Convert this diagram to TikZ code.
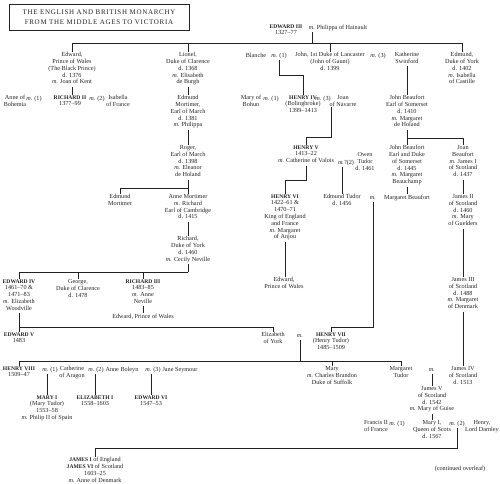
\documentclass[tikz,border=0pt]{standalone}
\usepackage{fontspec}
\usepackage{xcolor}
\setmainfont{Liberation Serif}
\usetikzlibrary{positioning,calc}
\definecolor{Ink}{HTML}{222222}
\newcommand{\wed}{\textit{m.}}
\newcommand{\monarch}[1]{{\fontsize{5.6}{6.8}\selectfont\bfseries #1}}
\tikzset{
  person/.style={anchor=north,align=center,inner sep=0pt,outer sep=0.8pt,text=Ink,
    font=\fontsize{6.2}{6.8}\selectfont,execute at begin node=\strut,execute at end node=\strut,yshift=3.4pt},
  wedlock/.style={person},
  link/.style={draw=Ink,line width=0.65pt}
}

\begin{document}
\begin{tikzpicture}[x=1pt,y=-1pt]
  \useasboundingbox (0,0) rectangle (500,483);
  \node[draw=Ink,line width=0.65pt,minimum width=180pt,minimum height=26pt,align=center,inner sep=0pt,text=Ink,
    font=\fontsize{7}{10.5}\selectfont\addfontfeature{LetterSpace=10}] (title) at (99,17)
    {THE ENGLISH AND BRITISH MONARCHY\\FROM THE MIDDLE AGES TO VICTORIA};

  \coordinate (barA) at (0,43);
  \coordinate (barB) at (0,75);
  \coordinate (barC) at (0,137);
  \coordinate (barD) at (0,138);
  \coordinate (barE) at (0,188);
  \coordinate (barF) at (0,180);
  \coordinate (barG) at (0,272);
  \coordinate (barH) at (0,327);
  \coordinate (barI) at (0,361);
  \coordinate (barJ) at (0,448);

  \node[person] (edward3) at (286,27) {\monarch{EDWARD III}\\1327--77};
  \node[wedlock] (mEdward3) at (312,27) {\wed};
  \node[person,anchor=north west] (philippa) at (316,27) {Philippa of Hainault};

  \node[person] (blackPrince) at (72,55) {Edward,\\Prince of Wales\\(The Black Prince)\\d. 1376\\\wed{} Joan of Kent};
  \node[person] (lionel) at (188,55) {Lionel,\\Duke of Clarence\\d. 1368\\\wed{} Elisabeth\\de Burgh};
  \node[person] (blanche) at (256,55) {Blanche};
  \node[wedlock] (mGaunt1) at (279,55) {\wed{} (1)};
  \node[person] (gaunt) at (330,55) {John, 1st Duke of Lancaster\\(John of Gaunt)\\d. 1399};
  \node[wedlock] (mGaunt3) at (378,55) {\wed{} (3)};
  \node[person] (katherine) at (407,55) {Katherine\\Swinford};
  \node[person] (edmundYork) at (462,55) {Edmund,\\Duke of York\\d. 1402\\\wed{} Isabella\\of Castille};

  \draw[link] (mEdward3.south) -- (mEdward3.south |- barA);
  \draw[link] (blackPrince.north |- barA) -- (edmundYork.north |- barA);
  \draw[link] (blackPrince.north |- barA) -- (blackPrince.north);
  \draw[link] (lionel.north |- barA) -- (lionel.north);
  \draw[link] (gaunt.north |- barA) -- (gaunt.north);
  \draw[link] (edmundYork.north |- barA) -- (edmundYork.north);

  \node[person] (anneBohemia) at (15,98) {Anne of\\Bohemia};
  \node[wedlock] (mRichard1) at (34,98) {\wed{} (1)};
  \node[person] (richard2) at (70,98) {\monarch{RICHARD II}\\1377--99};
  \node[wedlock] (mRichard2) at (97,98) {\wed{} (2)};
  \node[person] (isabella) at (118,98) {Isabella\\of France};
  \node[person] (edmundMortimer) at (188,98) {Edmund\\Mortimer,\\Earl of March\\d. 1381\\\wed{} Philippa};
  \node[person] (maryBohun) at (251,98) {Mary of\\Bohun};
  \node[wedlock] (mHenry1) at (271,98) {\wed{} (1)};
  \node[person] (henry4) at (303,98) {\monarch{HENRY IV}\\(Bolingbroke)\\1399--1413};
  \node[wedlock] (mHenry3) at (323,98) {\wed{} (3)};
  \node[person] (joanNavarre) at (343,98) {Joan\\of Navarre};
  \node[person] (johnBeaufort) at (407,98) {John Beaufort\\Earl of Somerset\\d. 1410\\\wed{} Margaret\\de Holand};

  \draw[link] (blackPrince.south) -- (blackPrince.south |- richard2.north);
  \draw[link] (lionel.south) -- (edmundMortimer.north);
  \draw[link] (mGaunt1.south) |- (henry4.north |- barB) -- (henry4.north);
  \draw[link] (katherine.south) -- (katherine.south |- johnBeaufort.north);

  \node[person] (roger) at (188,148) {Roger,\\Earl of March\\d. 1398\\\wed{} Eleanor\\de Holand};
  \node[person] (henry5) at (306,148) {\monarch{HENRY V}\\1413--22\\\wed{} Catherine of Valois};
  \node[wedlock] (mOwen) at (346,162) {\wed?(2)};
  \node[person] (owen) at (365,155) {Owen\\Tudor\\d. 1461};
  \node[person] (johnBeaufort2) at (407,148) {John Beaufort\\Earl and Duke\\of Somerset\\d. 1445\\\wed{} Margaret\\Beauchamp};
  \node[person] (joanBeaufort) at (463,148) {Joan\\Beaufort\\\wed{} James I\\of Scotland\\d. 1437};

  \coordinate (henry4drop) at ([yshift=-4pt]mHenry3.south east);
  \draw[link] (henry4drop) |- (henry5.north |- barC) -- (henry5.north);
  \draw[link] (edmundMortimer.south) -- (roger.north);
  \draw[link] (johnBeaufort.south) -- (johnBeaufort2.north);
  \draw[link] (johnBeaufort.south |- barD) -- (joanBeaufort.north |- barD) -- (joanBeaufort.north);

  \node[person] (edmundMortimer2) at (120,197) {Edmund\\Mortimer};
  \node[person] (anneMortimer) at (188,197) {Anne Mortimer\\\wed{} Richard\\Earl of Cambridge\\d. 1415};
  \node[person] (henry6) at (285,197) {\monarch{HENRY VI}\\1422--61 \&\\1470--71\\King of England\\and France\\\wed{} Margaret\\of Anjou};
  \node[person] (edmundTudor) at (342,197) {Edmund Tudor\\d. 1456};
  \node[wedlock] (mEdmund) at (373,197) {\wed};
  \node[person] (margaretBeaufort) at (407,197) {Margaret Beaufort};
  \node[person] (james2) at (463,197) {James II\\of Scotland\\d. 1460\\\wed{} Mary\\of Guelders};

  \draw[link] (roger.south) -- (anneMortimer.north);
  \draw[link] (edmundMortimer2.north |- barE) -- (roger.south |- barE);
  \draw[link] (edmundMortimer2.north |- barE) -- (edmundMortimer2.north);
  \draw[link] (henry5.south) |- (henry6.north |- barF) -- (henry6.north);
  \draw[link] (edmundTudor.north |- mOwen.south) -- (edmundTudor.north);
  \draw[link] (johnBeaufort2.south) -- (margaretBeaufort.north);
  \draw[link] (joanBeaufort.south) -- (james2.north);

  \node[person] (richardYork) at (188,239) {Richard,\\Duke of York\\d. 1460\\\wed{} Cecily Neville};
  \node[person] (edwardLancaster) at (284,280) {Edward,\\Prince of Wales};
  \node[person] (james3) at (463,280) {James III\\of Scotland\\d. 1488\\\wed{} Margaret\\of Denmark};

  \draw[link] (anneMortimer.south) -- (richardYork.north);
  \draw[link] (henry6.south) -- (henry6.south |- edwardLancaster.north);
  \draw[link] (james2.south) -- (james3.north);

  \node[person] (edward4) at (19,282) {\monarch{EDWARD IV}\\1461--70 \&\\1471--83\\\wed{} Elizabeth\\Woodville};
  \node[person] (george) at (78,282) {George,\\Duke of Clarence\\d. 1478};
  \node[person] (richard3) at (143,282) {\monarch{RICHARD III}\\1483--85\\\wed{} Anne\\Neville};
  \node[person] (edwardYork) at (143,316) {Edward, Prince of Wales};

  \draw[link] (richardYork.south) -- (richardYork.south |- barG);
  \draw[link] (edward4.north |- barG) -- (richardYork.south |- barG);
  \draw[link] (edward4.north |- barG) -- (edward4.north);
  \draw[link] (george.north |- barG) -- (george.north);
  \draw[link] (richard3.north |- barG) -- (richard3.north);
  \draw[link] (richard3.south) -- (edwardYork.north);

  \node[person] (edward5) at (19,335) {\monarch{EDWARD V}\\1483};
  \node[person] (elizabethYork) at (273,335) {Elizabeth\\of York};
  \node[wedlock] (mHenry7) at (300,335) {\wed};
  \node[person] (henry7) at (331,335) {\monarch{HENRY VII}\\(Henry Tudor)\\1485--1509};

  \draw[link] (edward4.south) -- (edward5.north);
  \draw[link] (edward4.south |- barH) -- (elizabethYork.north |- barH) -- (elizabethYork.north);
  \draw[link] (mEdmund.south) |- (henry7.north |- barH) -- (henry7.north);

  \node[person] (henry8) at (19,369) {\monarch{HENRY VIII}\\1509--47};
  \node[wedlock] (mHenry8a) at (50,369) {\wed{} (1)};
  \node[person] (catherineAragon) at (72,369) {Catherine\\of Aragon};
  \node[wedlock] (mHenry8b) at (96,369) {\wed{} (2)};
  \node[person] (anneBoleyn) at (122,369) {Anne Boleyn};
  \node[wedlock] (mHenry8c) at (153,369) {\wed{} (3)};
  \node[person] (janeSeymour) at (180,369) {Jane Seymour};
  \node[person] (maryTudor) at (332,369) {Mary\\\wed{} Charles Brandon\\Duke of Suffolk};
  \node[person] (margaretTudor) at (401,369) {Margaret\\Tudor};
  \node[wedlock] (mJames4) at (432,369) {\wed};
  \node[person] (james4) at (463,369) {James IV\\of Scotland\\d. 1513};

  \draw[link] (mHenry7.south) -- (mHenry7.south |- barI);
  \draw[link] (henry8.north |- barI) -- (margaretTudor.north |- barI);
  \draw[link] (henry8.north |- barI) -- (henry8.north);
  \draw[link] (maryTudor.north |- barI) -- (maryTudor.north);
  \draw[link] (margaretTudor.north |- barI) -- (margaretTudor.north);
  \draw[link] (james3.south) -- (james4.north);

  \node[person] (mary1) at (47,398) {\monarch{MARY I}\\(Mary Tudor)\\1553--58\\\wed{} Philip II of Spain};
  \node[person] (elizabeth1) at (95,398) {\monarch{ELIZABETH I}\\1558--1603};
  \node[person] (edward6) at (151,398) {\monarch{EDWARD VI}\\1547--53};
  \node[person] (james5) at (432,389) {James V\\of Scotland\\d. 1542\\\wed{} Mary of Guise};

  \draw[link] (mary1.north |- mHenry8a.south) -- (mary1.north);
  \draw[link] (elizabeth1.north |- mHenry8b.south) -- (elizabeth1.north);
  \draw[link] (edward6.north |- mHenry8c.south) -- (edward6.north);
  \draw[link] (mJames4.south) -- (james5.north);

  \node[person] (francis2) at (376,423) {Francis II\\of France};
  \node[wedlock] (mMary1) at (397,423) {\wed{} (1)};
  \node[person] (maryStuart) at (432,423) {Mary I,\\Queen of Scots\\d. 1567};
  \node[wedlock] (mMary2) at (457,423) {\wed{} (2)};
  \node[person] (darnley) at (482,423) {Henry,\\Lord Darnley};

  \node[person] (james1) at (95,460) {\monarch{JAMES I} of England\\\monarch{JAMES VI} of Scotland\\1603--25\\\wed{} Anne of Denmark};
  \node[person] (overleaf) at (460,468) {(continued overleaf)};

  \draw[link] (james5.south) -- (maryStuart.north);
  \draw[link] (mMary2.south) |- (james1.north |- barJ) -- (james1.north);
\end{tikzpicture}
\end{document}
